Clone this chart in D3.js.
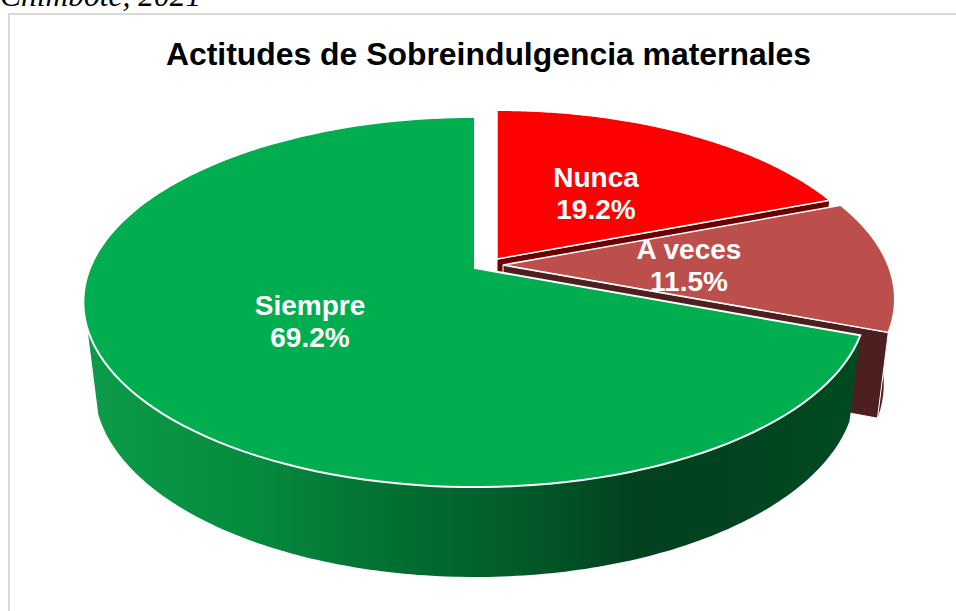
<!DOCTYPE html>
<html><head><meta charset="utf-8">
<style>html,body{margin:0;padding:0;background:#fff}svg{display:block}</style>
<script src="https://cdnjs.cloudflare.com/ajax/libs/d3/7.8.5/d3.min.js"></script>
</head><body><svg id="c" width="956" height="611"></svg>
<script>
const categories = ["Nunca", "A veces", "Siempre"];
const values = [19.2, 11.5, 69.2];
const labels = ["19.2%", "11.5%", "69.2%"];
const title = "Actitudes de Sobreindulgencia maternales";
const caption = "Chimbote, 2021";
const topColors = ["#ff0000", "#bc4f4c", "#00ae4f"];
const wallColors = ["#6b0000", "#4d1f1e", "#00471f"];

const svg = d3.select("#c");

const apex = [[497, 259], [503, 265], [475, 268]];
const sliceScale = [0.985, 1, 1];
const labelPos = [[596, 187], [689, 259], [310, 315]];
const RX = 385, TOP = {a: 178.8, k: 0.184, s: 1};
const BOT = {a: 183.6, k: 0.184, s: 0.972, dz: 84};
const LEFT_TANGENT = 251.3 * Math.PI / 180;

const pie = d3.pie().sort(null).value(d => d);
const arcs = pie(values);

function proj(i, ang, f) {
  const u = Math.sin(ang), v = Math.cos(ang);
  const w = sliceScale[i] / (1 + f.k * v);
  return [apex[i][0] + RX * f.s * u * w, apex[i][1] + (f.dz || 0) - f.a * v * w];
}
const line = d3.line();
function sample(a0, a1, n) { return d3.range(n + 1).map(t => a0 + (a1 - a0) * t / n); }

const grad = svg.append("defs").append("linearGradient").attr("id", "gs")
  .attr("gradientUnits", "userSpaceOnUse").attr("x1", 85).attr("x2", 860).attr("y1", 0).attr("y2", 0);
[[0, "#0d9c49"], [0.22, "#058a3e"], [0.42, "#026c31"], [0.55, "#025c2a"], [0.71, "#03411f"], [0.85, "#02441f"], [1, "#004a20"]]
  .forEach(d => grad.append("stop").attr("offset", d[0]).attr("stop-color", d[1]));

svg.append("rect").attr("x", 9).attr("y", 14).attr("width", 960).attr("height", 620)
  .attr("fill", "#fff").attr("stroke", "#d9d9d9").attr("stroke-width", 2);

svg.append("text").attr("x", 0).attr("y", 6).attr("font-family", "Liberation Serif")
  .attr("font-style", "italic").attr("font-size", 31.5).attr("fill", "#000").text(caption);
svg.append("text").attr("x", 488.5).attr("y", 65).attr("text-anchor", "middle")
  .attr("font-family", "Liberation Sans").attr("font-weight", "bold").attr("font-size", 31.9)
  .attr("fill", "#000").text(title);

function side(i, a0, a1, fill) {
  const as = sample(a0, a1, 160);
  const pts = as.map(a => proj(i, a, TOP)).concat(as.slice().reverse().map(a => proj(i, a, BOT)));
  svg.append("path").attr("d", line(pts) + "Z").attr("fill", fill);
}
function wall(i, ang, fill) {
  const base = apex[i];
  const b2 = [base[0], base[1] + BOT.dz];
  svg.append("path").attr("d", line([base, proj(i, ang, TOP), proj(i, ang, BOT), b2]) + "Z")
    .attr("fill", fill).attr("stroke", "#fff").attr("stroke-width", 1);
}
function face(i, d, sw) {
  const pts = sample(d.startAngle, d.endAngle, 120).map(a => proj(i, a, TOP));
  svg.append("path").attr("d", line([apex[i], ...pts]) + "Z")
    .attr("fill", topColors[i]).attr("stroke", "#fff").attr("stroke-width", sw).attr("stroke-linejoin", "miter");
}

// Nunca
wall(0, arcs[0].endAngle, wallColors[0]);
face(0, arcs[0], 1.5);
// A veces
side(1, arcs[1].startAngle, arcs[1].endAngle, wallColors[1]);
wall(1, arcs[1].endAngle, wallColors[1]);
face(1, arcs[1], 1.5);
// Siempre
side(2, arcs[2].startAngle, LEFT_TANGENT, "url(#gs)");
face(2, arcs[2], 2);

categories.forEach((c, i) => {
  const t = svg.append("text").attr("text-anchor", "middle").attr("font-family", "Liberation Sans")
    .attr("font-weight", "bold").attr("font-size", 28).attr("fill", "#fff");
  t.append("tspan").attr("x", labelPos[i][0]).attr("y", labelPos[i][1]).text(c);
  t.append("tspan").attr("x", labelPos[i][0]).attr("y", labelPos[i][1] + 32).text(labels[i]);
});
</script></body></html>
